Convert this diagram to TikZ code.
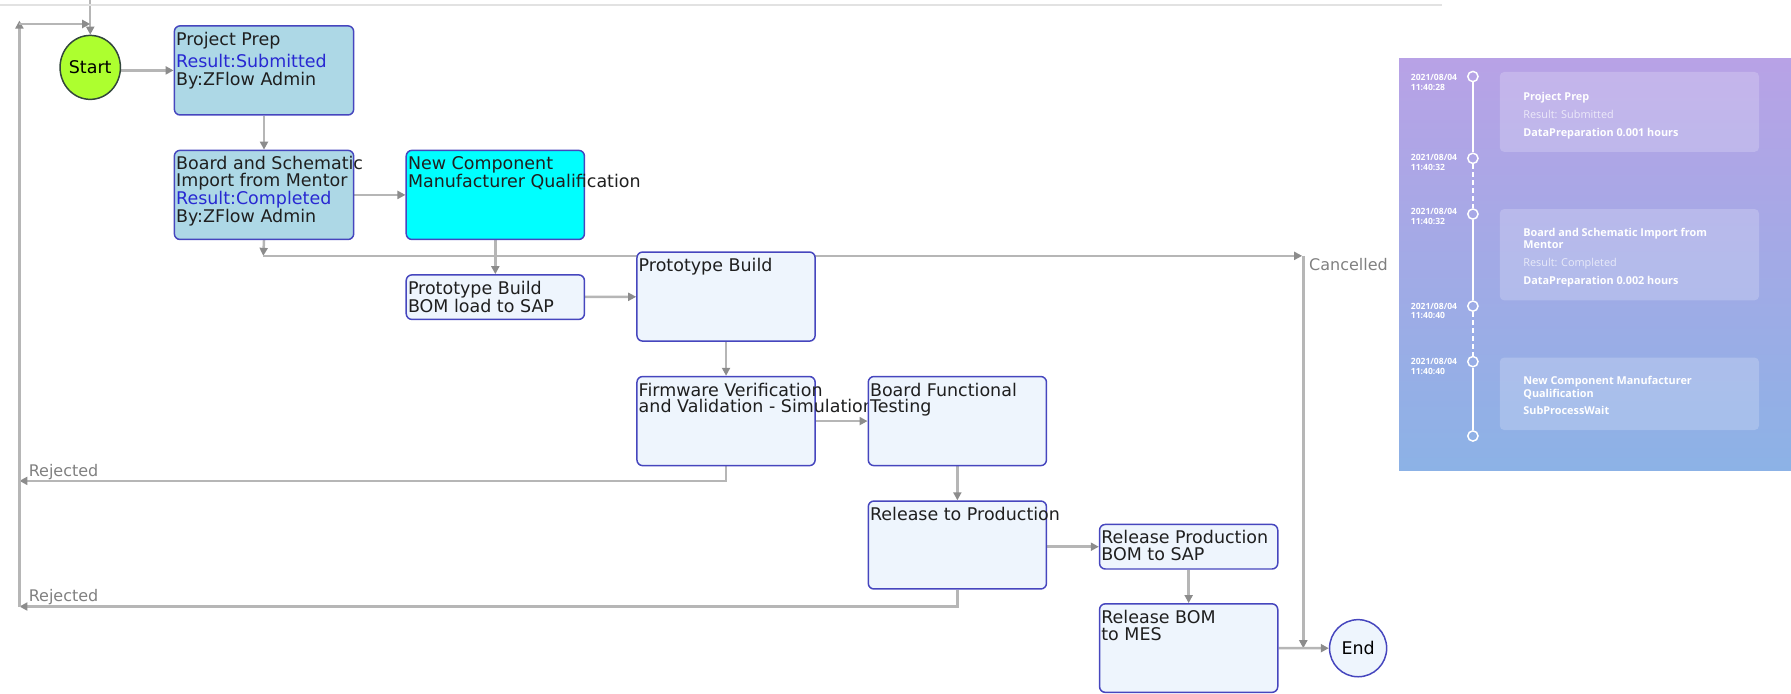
\documentclass[tikz,border=0pt]{standalone}
\usepackage{fontspec}
\newfontfamily\dv{DejaVu Sans}
\newfontfamily\os{Open Sans}
\usetikzlibrary{arrows.meta,shapes.geometric,backgrounds}
\definecolor{boxc}{RGB}{70,70,190}
\definecolor{ppfill}{RGB}{173,216,230}
\definecolor{cyanfill}{RGB}{0,255,255}
\definecolor{lightfill}{RGB}{238,245,253}
\definecolor{startfill}{RGB}{173,255,47}
\definecolor{startdraw}{RGB}{50,70,60}
\definecolor{conc}{RGB}{182,182,182}
\definecolor{arrc}{RGB}{140,140,140}
\definecolor{resblue}{RGB}{40,40,210}
\definecolor{lblgray}{RGB}{128,128,128}
\definecolor{paneltop}{RGB}{184,162,230}
\definecolor{panelbot}{RGB}{140,178,230}
\definecolor{rulec}{RGB}{226,226,226}
\newcommand\firstgap{\rule{0pt}{17.5pt}}
\newcommand\dategap{\rule{0pt}{7pt}}
\begin{document}
\begin{tikzpicture}[x=1pt,y=-1pt,
  stepbox/.style={draw=boxc, line width=1.3pt, rounded corners=5pt, anchor=north west, inner sep=0pt, fill=lightfill},
  boxtext/.style={anchor=north west, inner xsep=2pt, inner ysep=0pt, align=left, font=\dv\fontsize{15.3}{14.7}\selectfont, text=black!88},
  conn/.style={draw=conc, line width=2.2pt, -{Triangle[length=7pt,width=7pt,color=arrc]}},
  lbl/.style={font=\dv\fontsize{14}{14}\selectfont, text=lblgray, anchor=base west, inner sep=0pt},
  tdot/.style={circle, draw=white, line width=1.3pt, minimum size=9pt, inner sep=0pt},
  tline/.style={draw=white, line width=1.3pt},
  datetxt/.style={anchor=north west, inner sep=0pt, align=left, font=\os\bfseries\fontsize{7.5}{8.3}\selectfont, text=white},
  cardtitle/.style={anchor=base west, inner sep=0pt, font=\os\bfseries\fontsize{9.5}{11}\selectfont, text=white},
  cardres/.style={anchor=base west, inner sep=0pt, font=\os\fontsize{9.5}{11}\selectfont, text=white, text opacity=0.7},
  card/.style={fill=white, fill opacity=0.2, rounded corners=4pt}
]
\useasboundingbox (0,0) rectangle (1568,607);

% faint ruler at the top
\draw[rulec, line width=2pt] (0,4.5) -- (1262,4.5);

% ---------- nodes ----------
\node[ellipse, draw=startdraw, fill=startfill, line width=1.3pt, minimum width=52pt, minimum height=56pt, inner sep=0pt, font=\dv\fontsize{15.3}{15}\selectfont] (start) at (79,59) {Start};

\node[stepbox, fill=ppfill, minimum width=157pt, minimum height=78pt] (pp) at (152,22) {};
\node[boxtext] (ppt) at (pp.north west) {\firstgap Project Prep\\[3.5pt]\textcolor{resblue}{Result:Submitted}\\[1.5pt]By:ZFlow Admin};

\node[stepbox, fill=ppfill, minimum width=157pt, minimum height=78pt] (bsi) at (152,131) {};
\node[boxtext] (bsit) at (bsi.north west) {\firstgap Board and Schematic\\Import from Mentor\\\textcolor{resblue}{Result:Completed}\\By:ZFlow Admin};

\node[stepbox, fill=cyanfill, minimum width=156pt, minimum height=78pt] (ncq) at (355,131) {};
\node[boxtext] (ncqt) at (ncq.north west) {\firstgap New Component\\Manufacturer Qualification};

\node[stepbox, minimum width=156pt, minimum height=39pt] (pbb) at (355,240) {};
\node[boxtext] (pbbt) at (pbb.north west) {\firstgap Prototype Build\\BOM load to SAP};

\node[stepbox, minimum width=156pt, minimum height=78pt] (pb) at (557,220) {};
\node[boxtext] (pbt) at (pb.north west) {\firstgap Prototype Build};

\node[stepbox, minimum width=156pt, minimum height=78pt] (fvv) at (557,329) {};
\node[boxtext] (fvvt) at (fvv.north west) {\firstgap Firmware Verification\\and Validation - Simulation};

\node[stepbox, minimum width=156pt, minimum height=78pt] (bft) at (759.5,329) {};
\node[boxtext] (bftt) at (bft.north west) {\firstgap Board Functional\\Testing};

\node[stepbox, minimum width=156pt, minimum height=77pt] (rtp) at (759.5,438) {};
\node[boxtext] (rtpt) at (rtp.north west) {\firstgap Release to Production};

\node[stepbox, minimum width=156pt, minimum height=39pt] (rpb) at (962,458.5) {};
\node[boxtext] (rpbt) at (rpb.north west) {\firstgap Release Production\\BOM to SAP};

\node[stepbox, minimum width=156pt, minimum height=77.5pt] (rbm) at (962,528) {};
\node[boxtext] (rbmt) at (rbm.north west) {\firstgap Release BOM\\to MES};

\node[circle, draw=boxc, fill=lightfill, line width=1.3pt, minimum size=50pt, inner sep=0pt, font=\dv\fontsize{15.3}{15}\selectfont] (end) at (1189,567.5) {End};

% free ends of connectors
\coordinate (top) at (79,0);
\coordinate (cA) at (230.5,224);
\coordinate (cB) at (1140,224);
\coordinate (cC) at (1141,567.5);
\coordinate (cV) at (1141,224);
\coordinate (rj1) at (17,421);
\coordinate (rj2) at (17,531);
\coordinate (lt) at (17,18);
\coordinate (hl) at (17,21);
\coordinate (hr) at (79,21);

% labels
\node[lbl] (rej1) at (25,417) {Rejected};
\node[lbl] (rej2) at (25,527) {Rejected};
\node[lbl] (canc) at (1146,237) {Cancelled};

% ---------- connectors ----------
\begin{pgfonlayer}{background}
\draw[conn] (top) -- (start);
\draw[conn] (pp.west -| start.east) -- (pp.west);
\draw[conn] (pp) -- (bsi);
\draw[conn] (bsi) -- (ncq);
\draw[conn] (bsi.south) -- (cA);
\draw[conn] (cA) -- (cB);
\draw[conn] (cV) -- (cC);
\draw[conn] (ncq) -- (pbb);
\draw[conn] (pbb) -- (pb);
\draw[conn] (pb) -- (fvv);
\draw[conn] (fvv) -- (bft);
\draw[conn] (fvv.south) |- (rj1);
\draw[conn] (bft) -- (rtp);
\draw[conn] (rpb.west -| rtp.east) -- (rpb.west);
\draw[conn] (rtp.south) |- (rj2);
\draw[conn] (rpb) -- (rbm);
\draw[conn] (rbm) -- (end);
\draw[conn] (rj2) -- (lt);
\draw[conn] (hl) -- (hr);
\end{pgfonlayer}

% ---------- timeline panel ----------
\shade[top color=paneltop, bottom color=panelbot] (1225,51) rectangle (1568,412);
\fill[card] (1313,63) rectangle (1540,133);
\fill[card] (1313,183) rectangle (1540,263);
\fill[card] (1313,313) rectangle (1540,376.5);

\node[tdot] (d1) at (1289.5,67) {};
\node[tdot] (d2) at (1289.5,138.6) {};
\node[tdot] (d3) at (1289.5,187.4) {};
\node[tdot] (d4) at (1289.5,268) {};
\node[tdot] (d5) at (1289.5,316.6) {};
\node[tdot] (d6) at (1289.5,381.7) {};
\draw[tline] (d1) -- (d2);
\draw[tline, dash pattern=on 4pt off 3pt] (d2) -- (d3);
\draw[tline] (d3) -- (d4);
\draw[tline, dash pattern=on 4pt off 3pt] (d4) -- (d5);
\draw[tline] (d5) -- (d6);

\node[datetxt] (t1) at (1235,63.3) {\dategap 2021/08/04\\11:40:28};
\node[datetxt] (t2) at (1235,133.4) {\dategap 2021/08/04\\11:40:32};
\node[datetxt] (t3) at (1235,181) {\dategap 2021/08/04\\11:40:32};
\node[datetxt] (t4) at (1235,263.7) {\dategap 2021/08/04\\11:40:40};
\node[datetxt] (t5) at (1235,312.3) {\dategap 2021/08/04\\11:40:40};

\node[cardtitle] (k1a) at (1333.5,88) {Project Prep};
\node[cardres] (k1b) at (1333.5,104.1) {Result: Submitted};
\node[cardtitle] (k1c) at (1333.5,119.6) {DataPreparation 0.001 hours};

\node[cardtitle] (k2a) at (1333.5,207.1) {Board and Schematic Import from};
\node[cardtitle] (k2b) at (1333.5,217.9) {Mentor};
\node[cardres] (k2c) at (1333.5,233.4) {Result: Completed};
\node[cardtitle] (k2d) at (1333.5,249.1) {DataPreparation 0.002 hours};

\node[cardtitle] (k3a) at (1333.5,336.7) {New Component Manufacturer};
\node[cardtitle] (k3b) at (1333.5,348.4) {Qualification};
\node[cardtitle] (k3c) at (1333.5,362.9) {SubProcessWait};
\end{tikzpicture}
\end{document}
